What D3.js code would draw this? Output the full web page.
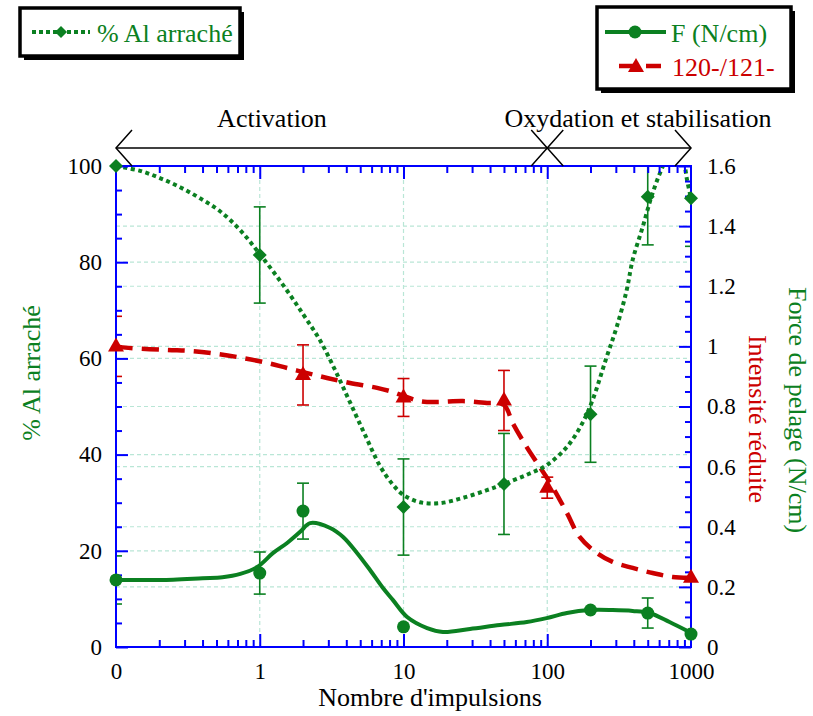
<!DOCTYPE html>
<html><head><meta charset="utf-8">
<script src="https://cdn.jsdelivr.net/npm/d3@7"></script>
<style>
body{margin:0;background:#fff}
#wrap{position:relative;width:813px;height:716px}
#wrap svg{position:absolute;left:0;top:0}
</style>
</head><body><div id="wrap"><svg id="c" width="813" height="716"></svg><svg id="t" width="813" height="716"></svg></div>
<script>
// ---------- data ----------
const xTickValues = [0.1, 1, 10, 100, 1000];           // "0" is drawn one decade left of 1
const xTickLabels = ["0", "1", "10", "100", "1000"];
const leftTickValues = [0, 20, 40, 60, 80, 100];
const rightTickValues = [0, 0.2, 0.4, 0.6, 0.8, 1, 1.2, 1.4, 1.6];
const rightTickLabels = ["0", "0.2", "0.4", "0.6", "0.8", "1", "1.2", "1.4", "1.6"];

// % Al arraché (left axis)
const alX   = [0, 1, 10, 50, 200, 500, 1000];
const alY   = [100, 81.5, 29.1, 33.9, 48.4, 93.6, 93.3];
const alErr = [0, 10, 10, 10.5, 10, 10, 10];
const alCurve = [[0.1,100],[0.147,99],[0.202,97.5],[0.279,95.6],[0.384,93.3],[0.529,90.6],[0.729,86.7],[1,81.7],[1.45,75.3],[2.0,69.2],[2.62,63.8],[3.34,57.6],[4.24,50.9],[5.4,44.1],[6.87,37.6],[8.46,33.7],[10,31.6],[13,30.1],[17.9,29.9],[25.9,31],[38,32.6],[50,33.9],[72,35.8],[99,37.8],[137,41.6],[176,46.6],[207,51.4],[259,60.3],[304,66.5],[357,74.2],[393,80.5],[461,87.3],[541,94.4],[634,99.8],[720,103],[810,104],[890,101],[940,97],[1000,93.3]];

// F (N/cm) (right axis)
const fX   = [0, 1, 2, 10, 200, 500, 1000];
const fY   = [0.223, 0.246, 0.452, 0.067, 0.123, 0.113, 0.043];
const fErr = [0.08, 0.07, 0.093, 0, 0, 0.05, 0];
const fCurve = [[0.1,0.223],[0.25,0.224],[0.4,0.229],[0.55,0.232],[0.732,0.243],[0.96,0.266],[1.24,0.313],[1.55,0.346],[1.91,0.383],[2.24,0.412],[3.09,0.396],[3.8,0.366],[4.75,0.313],[5.85,0.256],[7.2,0.196],[8.45,0.156],[10.6,0.1],[14.6,0.063],[18.8,0.05],[29,0.06],[46.8,0.073],[72,0.083],[99,0.096],[137,0.113],[197,0.123],[285,0.123],[393,0.12],[515,0.113],[709,0.083],[1000,0.047]];

// 120-/121- intensité réduite (right axis)
const rX   = [0, 2, 10, 50, 100, 1000];
const rY   = [1.0, 0.905, 0.83, 0.82, 0.53, 0.23];
const rErr = [0.1, 0.1, 0.063, 0.1, 0.035, 0];
const rCurve = [[0.1,1.0],[0.122,0.995],[0.228,0.988],[0.329,0.985],[0.507,0.975],[0.768,0.961],[1.13,0.945],[1.55,0.928],[2.14,0.911],[2.94,0.895],[4.25,0.878],[6.55,0.862],[8.45,0.848],[10,0.835],[13,0.818],[17.1,0.815],[25.9,0.818],[38,0.812],[50,0.805],[57.5,0.745],[72,0.665],[88.7,0.599],[109,0.532],[137,0.446],[168,0.366],[221,0.313],[285,0.283],[393,0.263],[541,0.246],[744,0.233],[1000,0.23]];

// ---------- drawing ----------
const GREEN = "#0b8021", RED = "#cc0000", BLUE = "#0000ff", GRID = "#b9e6d6";
const FONT = "Liberation Serif";
const P = {left: 116, right: 691, top: 166, bottom: 647};
const svg = d3.select("#c");
const tsvg = d3.select("#t");

const x = d3.scaleLog().domain([0.1, 1000]).range([P.left, P.right]);
const xp = v => x(v === 0 ? 0.1 : v);
const yL = d3.scaleLinear().domain([0, 100]).range([P.bottom, P.top]);
const yR = d3.scaleLinear().domain([0, 1.6]).range([P.bottom, P.top]);

svg.append("defs").append("clipPath").attr("id", "pc").append("rect")
  .attr("x", P.left).attr("y", P.top).attr("width", P.right - P.left).attr("height", P.bottom - P.top);

// grid
const grid = svg.append("g").attr("stroke", GRID).attr("stroke-width", 1.2).attr("stroke-dasharray", "4,3");
[1, 10, 100].forEach(v => grid.append("line").attr("x1", x(v)).attr("x2", x(v)).attr("y1", P.top).attr("y2", P.bottom));
[20, 40, 60, 80].forEach(v => grid.append("line").attr("x1", P.left).attr("x2", P.right).attr("y1", yL(v)).attr("y2", yL(v)));
[0.2, 0.4, 0.6, 0.8, 1, 1.2, 1.4].forEach(v => grid.append("line").attr("x1", P.left).attr("x2", P.right).attr("y1", yR(v)).attr("y2", yR(v)));

// curves
const plot = svg.append("g").attr("clip-path", "url(#pc)");
const lineL = d3.line().x(d => x(d[0])).y(d => yL(d[1])).curve(d3.curveCatmullRom.alpha(0.5));
const lineR = d3.line().x(d => x(d[0])).y(d => yR(d[1])).curve(d3.curveCatmullRom.alpha(0.5));
plot.append("path").attr("d", lineR(fCurve)).attr("fill", "none").attr("stroke", GREEN).attr("stroke-width", 4).attr("stroke-linejoin", "round");
plot.append("path").attr("d", lineR(rCurve)).attr("fill", "none").attr("stroke", RED).attr("stroke-width", 4.5).attr("stroke-dasharray", "17,9");
plot.append("path").attr("d", lineL(alCurve)).attr("fill", "none").attr("stroke", GREEN).attr("stroke-width", 4).attr("stroke-dasharray", "4,3.5");

// error bars
function errBars(xs, ys, es, ysc, color) {
  xs.forEach((v, i) => {
    if (!es[i]) return;
    const cx = xp(v), y1 = ysc(ys[i] + es[i]), y2 = ysc(ys[i] - es[i]);
    const g = plot.append("g").attr("stroke", color).attr("stroke-width", 1.6);
    g.append("line").attr("x1", cx).attr("x2", cx).attr("y1", y1).attr("y2", y2);
    g.append("line").attr("x1", cx - 6).attr("x2", cx + 6).attr("y1", y1).attr("y2", y1);
    g.append("line").attr("x1", cx - 6).attr("x2", cx + 6).attr("y1", y2).attr("y2", y2);
  });
}
errBars(alX, alY, alErr, yL, GREEN);
errBars(fX, fY, fErr, yR, GREEN);
errBars(rX, rY, rErr, yR, RED);

// axes: tick marks in chart svg
const axG = svg.append("g");
function styleTicks(g) {
  g.select(".domain").remove();
  g.selectAll(".tick text").remove();
  g.selectAll(".tick line").attr("stroke", BLUE).attr("stroke-width", 2);
}
const majorX = xTickValues.slice(1, 4);
const minorX = x.ticks().filter(v => !xTickValues.includes(v));
const minorL = d3.range(5, 100, 5).filter(v => v % 20);
const minorR = d3.range(1, 32).map(i => i * 0.05).filter(v => Math.abs(v / 0.2 - Math.round(v / 0.2)) > 0.01);
axG.append("g").attr("transform", `translate(0,${P.bottom})`).call(d3.axisBottom(x).tickValues(minorX).tickSize(-7)).call(styleTicks);
axG.append("g").attr("transform", `translate(0,${P.bottom})`).call(d3.axisBottom(x).tickValues(majorX).tickSize(-13)).call(styleTicks);
axG.append("g").attr("transform", `translate(0,${P.top})`).call(d3.axisTop(x).tickValues(minorX).tickSize(-7)).call(styleTicks);
axG.append("g").attr("transform", `translate(0,${P.top})`).call(d3.axisTop(x).tickValues(majorX).tickSize(-13)).call(styleTicks);
axG.append("g").attr("transform", `translate(${P.left},0)`).call(d3.axisLeft(yL).tickValues(minorL).tickSize(-6)).call(styleTicks);
axG.append("g").attr("transform", `translate(${P.left},0)`).call(d3.axisLeft(yL).tickValues(leftTickValues).tickSize(-12)).call(styleTicks);
axG.append("g").attr("transform", `translate(${P.right},0)`).call(d3.axisRight(yR).tickValues(minorR).tickSize(-6)).call(styleTicks);
axG.append("g").attr("transform", `translate(${P.right},0)`).call(d3.axisRight(yR).tickValues(rightTickValues).tickSize(-12)).call(styleTicks);
axG.append("rect").attr("x", P.left).attr("y", P.top).attr("width", P.right - P.left).attr("height", P.bottom - P.top)
  .attr("fill", "none").attr("stroke", BLUE).attr("stroke-width", 2);

// markers
const diamond = (cx, cy, r) => `M${cx},${cy - r}L${cx + r},${cy}L${cx},${cy + r}L${cx - r},${cy}Z`;
const tri = (cx, cy) => `M${cx},${cy - 9}L${cx + 8},${cy + 5}L${cx - 8},${cy + 5}Z`;
const mk = svg.append("g");
alX.forEach((v, i) => mk.append("path").attr("d", diamond(xp(v), yL(alY[i]), 7)).attr("fill", GREEN));
fX.forEach((v, i) => mk.append("circle").attr("cx", xp(v)).attr("cy", yR(fY[i])).attr("r", 6.5).attr("fill", GREEN));
rX.forEach((v, i) => mk.append("path").attr("d", tri(xp(v), yR(rY[i]))).attr("fill", RED));

// header arrows
const hy = 148, hg = svg.append("g").attr("stroke", "#000").attr("stroke-width", 1.5).attr("fill", "none");
hg.append("line").attr("x1", x(0.1)).attr("x2", x(1000)).attr("y1", hy).attr("y2", hy);
[[x(0.1), 1], [x(100), -1], [x(100), 1], [x(1000), -1]].forEach(([tx, dir]) =>
  hg.append("path").attr("d", `M${tx + dir * 16},${hy - 18}L${tx},${hy}L${tx + dir * 16},${hy + 18}`));

// legend boxes and samples
function box(bx, by, bw, bh) {
  svg.append("rect").attr("x", bx + 4).attr("y", by + 4).attr("width", bw).attr("height", bh).attr("fill", "#000");
  svg.append("rect").attr("x", bx).attr("y", by).attr("width", bw).attr("height", bh).attr("fill", "#fff").attr("stroke", "#000").attr("stroke-width", 3.5);
}
box(20, 8, 220, 48);
svg.append("line").attr("x1", 32).attr("x2", 90).attr("y1", 32).attr("y2", 32).attr("stroke", GREEN).attr("stroke-width", 4).attr("stroke-dasharray", "4,3");
svg.append("path").attr("d", diamond(61, 32, 6)).attr("fill", GREEN);
box(597, 7, 194, 82);
svg.append("line").attr("x1", 605).attr("x2", 666).attr("y1", 32).attr("y2", 32).attr("stroke", GREEN).attr("stroke-width", 4);
svg.append("circle").attr("cx", 635).attr("cy", 32).attr("r", 6.5).attr("fill", GREEN);
svg.append("line").attr("x1", 619).attr("x2", 663).attr("y1", 66).attr("y2", 66).attr("stroke", RED).attr("stroke-width", 4.5).attr("stroke-dasharray", "15,12");
svg.append("path").attr("d", tri(636, 67)).attr("fill", RED);

// ---------- all text in the overlay svg ----------
function styleLabels(g) {
  g.attr("font-family", FONT).attr("font-size", 23);
  g.select(".domain").remove();
  g.selectAll(".tick line").remove();
  g.selectAll("text").attr("fill", "#000").attr("font-family", FONT);
}
tsvg.append("g").attr("transform", `translate(0,${P.bottom})`)
  .call(d3.axisBottom(x).tickValues(xTickValues).tickSize(0).tickPadding(16).tickFormat((d, i) => xTickLabels[i])).call(styleLabels);
tsvg.append("g").attr("transform", `translate(${P.left},0)`)
  .call(d3.axisLeft(yL).tickValues(leftTickValues).tickSize(0).tickPadding(14).tickFormat(d3.format("d"))).call(styleLabels);
tsvg.append("g").attr("transform", `translate(${P.right},0)`)
  .call(d3.axisRight(yR).tickValues(rightTickValues).tickSize(0).tickPadding(16).tickFormat((d, i) => rightTickLabels[i])).call(styleLabels);

function txt(xx, yy, s, size, fill, anchor, rot) {
  const t = tsvg.append("text").attr("font-family", FONT).attr("font-size", size).attr("fill", fill || "#000")
    .attr("text-anchor", anchor || "start").text(s);
  if (rot) t.attr("transform", `translate(${xx},${yy}) rotate(${rot})`).attr("dominant-baseline", "central");
  else t.attr("x", xx).attr("y", yy);
  return t;
}
txt(430, 706, "Nombre d'impulsions", 26, "#000", "middle");
txt(31, 373, "% Al arraché", 26, GREEN, "middle", -90);
txt(757, 419, "Intensité réduite", 26, RED, "middle", 90);
txt(797, 410, "Force de pelage (N/cm)", 26, GREEN, "middle", 90);
txt(272, 127, "Activation", 26, "#000", "middle");
txt(638, 127, "Oxydation et stabilisation", 26, "#000", "middle");
txt(97, 42, "% Al arraché", 26, GREEN);
txt(671, 42, "F (N/cm)", 26, GREEN);
txt(672, 76, "120-/121-", 26, RED);
</script></body></html>
